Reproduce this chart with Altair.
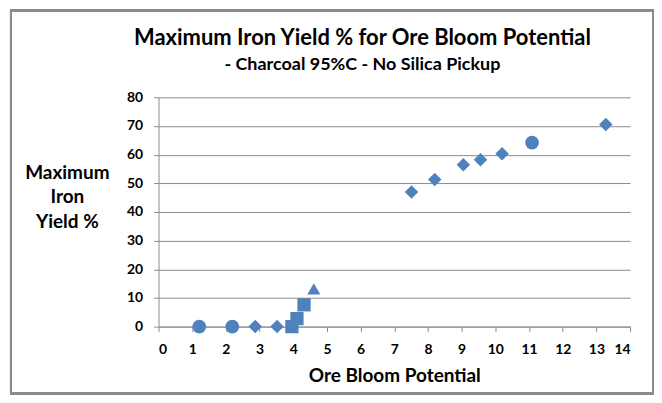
import altair as alt
import pandas as pd

potential = [1.21, 2.19, 2.87, 3.52, 3.96, 4.11, 4.32, 4.61, 7.51, 8.2, 9.05, 9.56, 10.2, 11.09, 13.28]
iron_yield = [0.0, 0.0, 0.0, 0.0, 0.0, 2.8, 7.6, 13.2, 47.0, 51.3, 56.5, 58.2, 60.3, 64.2, 70.5]
marker = ["circle", "circle", "diamond", "diamond", "square", "square", "square", "triangle-up",
          "diamond", "diamond", "diamond", "diamond", "diamond", "circle", "diamond"]

df = pd.DataFrame({"potential": potential, "yield": iron_yield, "marker": marker})

FONT = "Lato"
shapes = ["circle", "diamond", "square", "triangle-up"]

points = alt.Chart(df).mark_point(filled=True, opacity=1, color="#4F81BD").encode(
    x=alt.X("potential:Q",
            scale=alt.Scale(domain=[0, 14], nice=False),
            axis=alt.Axis(values=list(range(0, 15)), grid=False, title="Ore Bloom Potential",
                          tickSize=5, labelPadding=11, titlePadding=10)),
    y=alt.Y("yield:Q",
            scale=alt.Scale(domain=[0, 80], nice=False),
            axis=alt.Axis(values=list(range(0, 81, 10)), grid=True,
                          title=["Maximum", "Iron", "Yield %"], titleAngle=0, titleAlign="center",
                          titleBaseline="top", titleX=-92, titleY=66, titleLineHeight=25,
                          tickSize=5, labelPadding=11)),
    shape=alt.Shape("marker:N", scale=alt.Scale(domain=shapes,
                    range=["circle", "diamond", "square", "triangle-up"]), legend=None),
    size=alt.Size("marker:N", scale=alt.Scale(domain=shapes, range=[190, 170, 85, 170]), legend=None),
)

frame = alt.Chart(df).mark_rect(fill=None, stroke="#8c8c8c", strokeWidth=2).encode(
    x=alt.value(-148), x2=alt.value(496), y=alt.value(-87), y2=alt.value(297)
)

chart = alt.layer(frame, points).properties(
    width=473, height=230,
    background="white",
    autosize=alt.AutoSizeParams(type="none"),
    padding={"left": 151, "top": 89, "right": 24, "bottom": 68},
    title=alt.TitleParams(
        text="Maximum Iron Yield % for Ore Bloom Potential",
        subtitle="- Charcoal 95%C - No Silica Pickup",
        anchor="middle", frame="group", dx=-32, offset=-66,
        font=FONT, fontSize=22, fontWeight="bold", color="#000000",
        subtitleFont=FONT, subtitleFontSize=18, subtitleFontWeight="bold", subtitleColor="#000000",
        subtitlePadding=6,
    ),
).configure_axis(
    labelFont=FONT, labelFontSize=14, labelFontWeight="bold", labelColor="#000000",
    titleFont=FONT, titleFontSize=19, titleFontWeight="bold", titleColor="#000000",
    domainColor="#8c8c8c", tickColor="#8c8c8c", gridColor="#8c8c8c", gridWidth=1, domainWidth=1,
).configure_view(stroke=None)

chart.save("out.html", embed_options={"renderer": "svg", "actions": False})
